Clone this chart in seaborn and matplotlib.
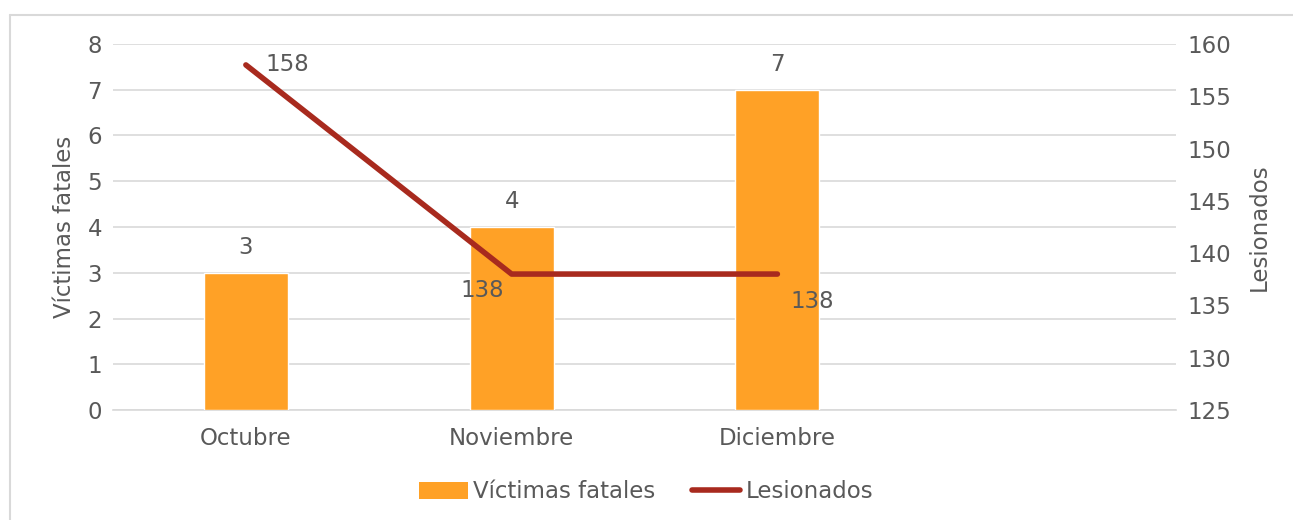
import matplotlib
matplotlib.use("Agg")
import matplotlib.pyplot as plt
import seaborn as sns
import numpy as np
import pandas as pd
from matplotlib.lines import Line2D
from matplotlib.patches import Patch

months = ["Octubre", "Noviembre", "Diciembre"]
victimas = [3, 4, 7]
lesionados = [158, 138, 138]
left_ticks = [0, 1, 2, 3, 4, 5, 6, 7, 8]
right_ticks = [125, 130, 135, 140, 145, 150, 155, 160]

BAR = "#FFA126"
LINE = "#A82A1E"
TXT = "#595959"
GRID = "#D9D9D9"
FS = 16.5

sns.set_theme(style="white")
plt.rcParams['font.family'] = ['DejaVu Sans']

fig = plt.figure(figsize=(12.93, 5.2), dpi=100)
# outer chart frame (only left and top edges visible)
fig.add_artist(Line2D([10/1293, 10/1293], [0, 1 - 15/520], transform=fig.transFigure,
                      color=GRID, linewidth=1.5))
fig.add_artist(Line2D([10/1293, 1], [1 - 15/520, 1 - 15/520], transform=fig.transFigure,
                      color=GRID, linewidth=1.5))
ax = fig.add_axes([113/1293, 1 - 410/520, (1176 - 113)/1293, (410 - 44)/520])

df = pd.DataFrame({"mes": months, "victimas": victimas, "lesionados": lesionados})
sns.barplot(data=df, x="mes", y="victimas", color=BAR, saturation=1, width=0.316, ax=ax, zorder=3)
ax.set_xlim(-0.5, 3.5)
ax.set_ylim(0, 8)
ax.set_yticks(left_ticks)
ax.yaxis.grid(True, color=GRID, linewidth=1.2, zorder=0)
ax.set_axisbelow(True)
for s in ax.spines.values():
    s.set_visible(False)
ax.spines['bottom'].set_visible(True)
ax.spines['bottom'].set_color(GRID)
ax.spines['bottom'].set_linewidth(1.2)
ax.tick_params(axis='both', length=0, labelsize=FS, colors=TXT, pad=8)
ax.tick_params(axis='x', pad=12)
ax.set_xlabel("")
ax.set_ylabel("Víctimas fatales", fontsize=FS, color=TXT, labelpad=8)

for i, v in enumerate(victimas):
    ax.annotate(str(v), (i, v), xytext=(0, 10), textcoords="offset points",
                ha="center", va="bottom", fontsize=FS, color=TXT)

ax2 = ax.twinx()
sns.lineplot(x=np.arange(len(months)), y=lesionados, color=LINE, linewidth=4, ax=ax2,
             solid_capstyle="round", zorder=4)
ax2.set_ylim(125, 160)
ax2.set_yticks(right_ticks)
for s in ax2.spines.values():
    s.set_visible(False)
ax2.tick_params(axis='y', length=0, labelsize=FS, colors=TXT, pad=8)
ax2.set_ylabel("Lesionados", fontsize=FS, color=TXT, labelpad=12)
ax2.grid(False)

offsets = [(30, 0), (-21, -12), (25, -20)]
for i, (v, off) in enumerate(zip(lesionados, offsets)):
    ax2.annotate(str(v), (i, v), xytext=off, textcoords="offset points",
                 ha="center", va="center", fontsize=FS, color=TXT)

handles = [Patch(facecolor=BAR, edgecolor='none', label="Víctimas fatales"),
           Line2D([0], [0], color=LINE, linewidth=4, solid_capstyle="round", label="Lesionados")]
fig.legend(handles=handles, loc="center", bbox_to_anchor=(0.5, 1 - 492/520), ncol=2,
           frameon=False, fontsize=FS, labelcolor=TXT, handlelength=2.1, handletextpad=0.25,
           columnspacing=1.6)

fig.savefig("out.png", dpi=100)
